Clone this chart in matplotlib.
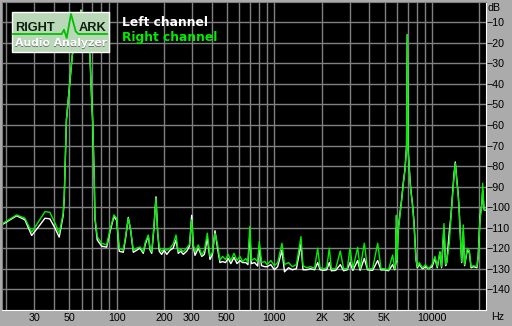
import matplotlib.pyplot as plt
from matplotlib.patches import Rectangle
from matplotlib.lines import Line2D

# spectrum (Hz, dB)
freq_hz = [18.7, 23.2, 26.2, 28.9, 32.0, 35.1, 37.7, 40.5, 43.2, 45.8, 46.5, 48.0, 52.3, 59.4,
           67.7, 69.4, 70.4, 72.1, 72.8, 75.3, 80.3, 86.4, 90.7, 96.1, 100.0, 103.9, 110.1, 114.0,
           118.5, 122.7, 127.5, 134.0, 140.6, 147.5, 152.0, 158.7, 163.0, 166.9, 172.0, 177.5,
           182.0, 186.3, 192.9, 200.0, 208.0, 217.9, 228.0, 238.0, 245.8, 255.0, 264.5, 277.9,
           290.0, 299.0, 306.0, 314.0, 329.6, 346.5, 360.0, 375.8, 390.8, 405.0, 420.5, 436.0,
           452.0, 470.0, 490.0, 510.0, 530.0, 555.0, 580.0, 605.0, 630.0, 660.0, 680.0, 699.0,
           715.0, 750.0, 784.0, 802.6, 830.0, 870.0, 900.0, 950.0, 1000.0, 1050.0, 1118.0, 1160.0,
           1230.0, 1300.0, 1380.0, 1476.0, 1520.0, 1600.0, 1700.0, 1800.0, 1884.0, 1950.0, 2050.0,
           2150.0, 2232.0, 2300.0, 2450.0, 2620.0, 2750.0, 2900.0, 3020.0, 3150.0, 3379.0, 3500.0,
           3721.0, 3900.0, 4200.0, 4524.0, 4750.0, 5000.0, 5300.0, 5632.0, 5800.0, 5911.0, 5940.0,
           5990.0, 6113.0, 6266.0, 6424.0, 6577.0, 6742.0, 6900.0, 6972.0, 7050.0, 7178.0, 7327.0,
           7500.0, 7689.0, 7802.0, 7917.0, 8068.0, 8307.0, 8700.0, 9100.0, 9500.0, 10000.0, 10447.0,
           10800.0, 11237.0, 11500.0, 11915.0, 12200.0, 12396.0, 12875.0, 13198.0, 13531.0, 13790.0,
           14056.0, 14346.0, 14684.0, 14902.0, 15206.0, 15432.0, 15796.0, 16100.0, 16745.0, 17243.0,
           17700.0, 18300.0, 19294.0, 19666.0, 20160.0, 20667.0, 20970.0, 21372.0, 21690.0]

right_db = [-108.2, -103.8, -105.4, -112.2, -107.0, -102.2, -102.5, -107.5, -112.7, -103.0, -95.0,
            -57.6, -26.0, -4.5, -26.0, -47.7, -57.6, -86.7, -104.6, -114.4, -117.6, -118.4, -111.0,
            -103.8, -105.4, -120.0, -121.0, -114.0, -105.4, -111.0, -121.0, -120.0, -119.4, -121.7,
            -117.0, -113.6, -120.0, -121.7, -110.0, -95.7, -112.0, -119.4, -121.7, -120.0, -121.0,
            -120.0, -118.0, -113.6, -121.7, -120.5, -121.7, -120.0, -118.0, -106.2, -118.0, -121.7,
            -118.4, -123.3, -121.0, -112.7, -124.0, -122.0, -112.7, -118.0, -125.8, -124.0, -125.5,
            -123.0, -126.0, -122.5, -126.0, -124.0, -126.5, -125.0, -127.0, -109.5, -126.0, -125.0,
            -126.6, -116.8, -127.0, -126.5, -128.0, -126.0, -128.5, -127.0, -117.6, -128.0, -127.0,
            -129.0, -128.0, -114.4, -128.5, -129.5, -129.0, -129.8, -120.0, -129.5, -130.0, -129.5,
            -120.0, -130.0, -130.0, -121.4, -130.0, -130.0, -120.0, -130.0, -119.6, -130.0, -117.6,
            -130.0, -130.0, -117.6, -130.0, -130.0, -130.5, -123.3, -130.0, -126.0, -104.0, -126.0,
            -111.0, -104.0, -96.5, -89.0, -82.0, -71.0, -16.0, -72.0, -82.0, -91.7, -98.0, -108.0,
            -117.6, -125.0, -129.0, -127.0, -129.5, -128.0, -130.0, -128.0, -124.0, -129.0, -121.7,
            -129.0, -108.0, -128.0, -127.0, -117.6, -104.6, -93.2, -85.2, -78.6, -86.7, -94.9,
            -103.0, -117.6, -126.6, -108.7, -128.0, -120.0, -121.0, -129.0, -128.5, -129.0, -123.3,
            -106.2, -99.8, -88.4, -101.4, -101.0]

left_db = [-108.6, -104.2, -106.2, -113.8, -109.5, -105.4, -105.7, -110.0, -114.6, -104.0, -95.5,
           -57.6, -26.0, -4.0, -26.0, -47.7, -57.6, -86.7, -105.5, -116.0, -119.0, -119.5, -112.0,
           -104.5, -106.5, -121.5, -122.0, -115.0, -105.0, -111.5, -122.0, -121.0, -120.0, -122.5,
           -118.0, -114.0, -121.0, -122.5, -111.0, -95.0, -112.5, -121.5, -123.0, -121.0, -123.0,
           -121.0, -120.0, -116.0, -122.5, -121.5, -123.0, -121.5, -119.0, -104.0, -119.0, -123.5,
           -120.0, -124.0, -123.0, -115.0, -125.5, -123.0, -111.5, -120.0, -127.0, -126.5, -127.0,
           -125.0, -127.5, -124.5, -127.5, -126.0, -127.0, -127.0, -128.0, -113.0, -127.5, -127.0,
           -128.7, -119.0, -128.5, -129.0, -129.0, -128.0, -130.5, -129.0, -121.0, -131.5, -129.5,
           -130.5, -130.0, -118.0, -130.5, -130.5, -130.0, -130.5, -127.0, -130.5, -130.8, -130.5,
           -127.0, -131.0, -130.8, -128.0, -131.0, -130.5, -127.0, -130.8, -126.0, -130.8, -125.0,
           -130.5, -130.8, -126.0, -130.6, -130.5, -131.0, -128.0, -130.5, -127.0, -110.0, -126.5,
           -111.0, -103.0, -96.0, -88.0, -81.5, -70.0, -16.0, -71.0, -81.0, -91.0, -97.5, -107.0,
           -116.0, -125.5, -129.5, -128.0, -130.0, -129.0, -130.0, -129.0, -125.0, -129.5, -122.0,
           -129.5, -110.0, -128.5, -127.0, -112.0, -104.0, -93.0, -84.0, -78.0, -86.0, -94.0,
           -103.0, -117.0, -127.0, -112.0, -128.5, -121.0, -122.0, -129.5, -129.0, -129.5, -123.0,
           -105.0, -99.0, -92.0, -101.0, -101.5]

x_labels = ['30', '50', '100', '200', '300', '500', '1000', '2K', '3K', '5K', '10000']
x_label_pos = [30, 50, 100, 200, 300, 500, 1000, 2000, 3000, 5000, 10000]
y_ticks = [-10, -20, -30, -40, -50, -60, -70, -80, -90, -100, -110, -120, -130, -140]

W, H = 512, 326
bg = '#ababab'
grid_c = '#808080'


def px(x, y):
    return x / W, 1 - y / H


fig = plt.figure(figsize=(W / 100, H / 100), dpi=100, facecolor=bg)
l, t = px(1.5, 1.8)
r, b = px(485.5, 309.8)
ax = fig.add_axes([l, b, r - l, t - b])
ax.set_facecolor('black')

ax.plot(freq_hz, left_db, color='white', lw=1)
ax.plot(freq_hz, right_db, color='#00ee00', lw=1)

ax.set_xscale('log')
ax.set_xlim(18.6, 21850)
ax.set_ylim(-150, 0)

major = [10 ** k * m for k in (1, 2, 3, 4) for m in range(1, 10)]
major = [f for f in major if 20 <= f <= 20000]
ax.set_xticks(major)
ax.set_xticklabels([x_labels[x_label_pos.index(f)] if f in x_label_pos else '' for f in major])
ax.xaxis.set_minor_locator(plt.NullLocator())
ax.set_yticks(y_ticks)
ax.yaxis.tick_right()
ax.grid(True, color=grid_c, lw=1)
ax.set_axisbelow(True)
ax.tick_params(length=0, labelsize=7.7, labelcolor='black', pad=2)
ax.tick_params(axis='y', pad=1)
for lab in ax.get_xticklabels() + ax.get_yticklabels():
    lab.set_family('Liberation Sans')

for side in ('left', 'top'):
    ax.spines[side].set_color(grid_c)
for side in ('right', 'bottom'):
    ax.spines[side].set_color('white')

fig.text(*px(487, 8), 'dB', fontsize=7.7, family='Liberation Sans', va='center', ha='left')
fig.text(*px(491, 317), 'Hz', fontsize=7.7, family='Liberation Sans', va='center', ha='left')

# legend texts
fig.text(*px(122, 22), 'Left channel', color='white', fontsize=8.8, fontweight='bold',
         va='center', ha='left')
fig.text(*px(122, 38), 'Right channel', color='#00ee00', fontsize=8.8, fontweight='bold',
         va='center', ha='left')

# RightMark logo
x0, y0 = px(12, 51.5)
x1, y1 = px(109, 12)
fig.patches.append(Rectangle((x0, y0), x1 - x0, y1 - y0, transform=fig.transFigure,
                             facecolor='#b8d8b8', edgecolor='white', lw=1, zorder=5))
lx, ly = zip(*[px(*p) for p in [(13, 34), (61.7, 34), (64, 29.7), (66.7, 38), (71, 14),
                                 (75.7, 31.3), (78.3, 34), (107, 34)]])
fig.lines.append(Line2D(lx, ly, transform=fig.transFigure, color='#00c000', lw=1.3, zorder=6))
fig.text(*px(15, 28.3), 'RIGHT', color='#102010', fontsize=9.2, fontweight='bold',
         family='Liberation Sans', va='center', ha='left', zorder=7)
fig.text(*px(79, 28.3), 'ARK', color='#102010', fontsize=9.2, fontweight='bold',
         family='Liberation Sans', va='center', ha='left', zorder=7)
fig.text(*px(61.3, 44), 'Audio Analyzer', color='#707070', fontsize=7.8, fontweight='bold',
         va='center', ha='center', zorder=7)
fig.text(*px(60.8, 43.5), 'Audio Analyzer', color='white', fontsize=7.8, fontweight='bold',
         va='center', ha='center', zorder=7)

fig.savefig('out.png', dpi=100, facecolor=bg)
